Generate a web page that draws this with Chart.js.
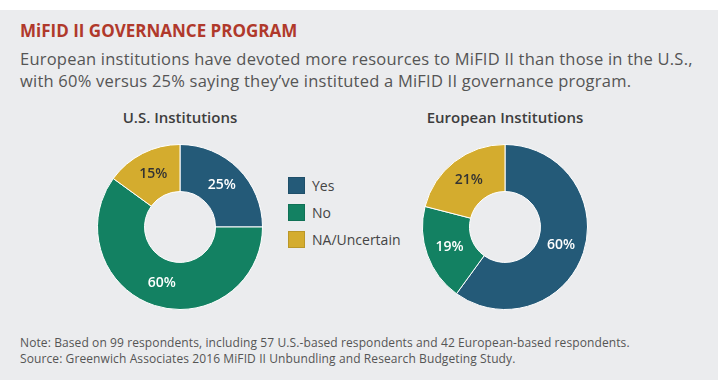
<!DOCTYPE html>
<html>
<head>
<meta charset="utf-8">
<script src="https://cdn.jsdelivr.net/npm/chart.js@4.4.0/dist/chart.umd.min.js"></script>
<style>
  html, body { margin: 0; padding: 0; background: #fff; }
  body { width: 720px; height: 390px; position: relative; overflow: hidden; font-family: "Open Sans", sans-serif; }
  #panel { position: absolute; left: 0; top: 10px; width: 718px; height: 370px; background: #ebecee; }
  #title { position: absolute; left: 20px; top: 19px; font-size: 17px; font-weight: 700; color: #b0392b; white-space: nowrap; }
  #subtitle { position: absolute; left: 20px; top: 48px; font-size: 16.5px; letter-spacing: 0.22px; line-height: 22px; color: #555; white-space: nowrap; }
  .ptitle { position: absolute; top: 107px; width: 240px; text-align: center; font-size: 15px; font-weight: 600; color: #3d3d3d; }
  .box { position: absolute; width: 166px; height: 166px; top: 144px; }
  #legend { position: absolute; left: 288px; top: 177px; }
  .item { height: 27px; display: flex; align-items: flex-start; font-size: 14px; color: #444; }
  .sw { width: 17px; height: 17px; margin-right: 7px; box-sizing: border-box; border: 1px solid rgba(0,0,0,0.12); }
  .item span { line-height: 17px; }
  #notes { position: absolute; left: 20px; top: 335px; font-size: 12px; letter-spacing: 0.1px; line-height: 16px; color: #555; white-space: nowrap; }
</style>
</head>
<body>
<div id="panel"></div>
<div id="title">MiFID II GOVERNANCE PROGRAM</div>
<div id="subtitle">European institutions have devoted more resources to MiFID II than those in the U.S.,<br>with 60% versus 25% saying they’ve instituted a MiFID II governance program.</div>
<div class="ptitle" style="left:60px">U.S. Institutions</div>
<div class="ptitle" style="left:385px">European Institutions</div>
<div class="box" style="left:97px"><canvas id="usChart"></canvas></div>
<div class="box" style="left:422px"><canvas id="euChart"></canvas></div>
<div id="legend"></div>
<div id="notes">Note: Based on 99 respondents, including 57 U.S.-based respondents and 42 European-based respondents.<br>Source: Greenwich Associates 2016 MiFID II Unbundling and Research Budgeting Study.</div>

<script>
const categories = ['Yes', 'No', 'NA/Uncertain'];
const usValues = [25, 60, 15];
const euValues = [60, 19, 21];

const colors = ['#245a78', '#138162', '#d4ac2e'];
const labelColors = ['#ffffff', '#ffffff', '#333333'];

// nhãn phần trăm ở giữa mỗi lát
const sliceLabels = {
    id: 'sliceLabels',
    afterDatasetsDraw(chart) {
        const ctx = chart.ctx;
        const meta = chart.getDatasetMeta(0);
        ctx.save();
        ctx.font = '600 14px "Open Sans", sans-serif';
        ctx.textAlign = 'center';
        ctx.textBaseline = 'middle';
        meta.data.forEach((arc, i) => {
            const pos = arc.tooltipPosition();
            ctx.fillStyle = labelColors[i];
            ctx.fillText(chart.data.datasets[0].data[i] + '%', pos.x, pos.y);
        });
        ctx.restore();
    }
};

function createChart(chartId, values) {
    const ctx = document.getElementById(chartId).getContext('2d');
    return new Chart(ctx, {
        type: 'doughnut',
        data: {
            labels: categories,
            datasets: [{
                data: values,
                backgroundColor: colors,
                borderColor: '#ffffff',
                borderWidth: 1
            }]
        },
        options: {
            responsive: true,
            maintainAspectRatio: false,
            animation: false,
            cutout: '43%',
            layout: { padding: 0 },
            plugins: {
                legend: { display: false },
                tooltip: { enabled: false }
            }
        },
        plugins: [sliceLabels]
    });
}

createChart('usChart', usValues);
createChart('euChart', euValues);

// chú thích
const legend = document.getElementById('legend');
categories.forEach((c, i) => {
    const row = document.createElement('div');
    row.className = 'item';
    row.innerHTML = '<div class="sw" style="background:' + colors[i] + '"></div><span>' + c + '</span>';
    legend.appendChild(row);
});
</script>
</body>
</html>
